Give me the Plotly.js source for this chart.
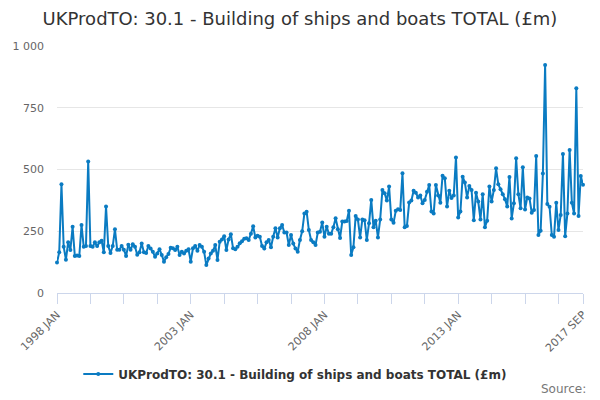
<!DOCTYPE html>
<html>
<head>
<meta charset="utf-8">
<script src="https://cdn.plot.ly/plotly-3.0.1.min.js"></script>
<style>
  html, body { margin: 0; padding: 0; background: #fff; }
  #chart { width: 600px; height: 400px; }
</style>
</head>
<body>
<div id="chart"></div>
<script>
"use strict";

// Series: monthly turnover, £m, 1998 JAN .. 2017 SEP
const SERIES_NAME = "UKProdTO: 30.1 - Building of ships and boats TOTAL (£m)";
const MONTHS = ["JAN", "FEB", "MAR", "APR", "MAY", "JUN", "JUL", "AUG", "SEP", "OCT", "NOV", "DEC"];
const FIRST_YEAR = 1998;

const VALUES = [
  123, 165, 440, 187, 135, 205, 174, 268, 150, 152, 150, 275,
  187, 190, 532, 190, 187, 205, 190, 205, 212, 165, 350, 190,
  162, 190, 258, 175, 175, 190, 175, 150, 195, 175, 197, 187,
  155, 165, 200, 165, 162, 190, 180, 167, 147, 160, 177, 154,
  127, 145, 158, 183, 181, 174, 187, 154, 167, 160, 171, 177,
  127, 181, 190, 171, 194, 187, 167, 113, 140, 160, 171, 194,
  134, 207, 217, 230, 174, 217, 238, 181, 177, 187, 201, 210,
  220, 222, 215, 240, 270, 225, 232, 228, 190, 180, 205, 215,
  185, 228, 262, 225, 262, 275, 245, 245, 194, 235, 200, 180,
  167, 215, 250, 322, 329, 255, 215, 205, 194, 245, 248, 285,
  228, 268, 240, 240, 266, 303, 258, 223, 289, 289, 292, 333,
  154, 185, 312, 298, 225, 298, 295, 215, 282, 377, 266, 293,
  225, 298, 417, 404, 374, 431, 298, 284, 333, 339, 336, 485,
  266, 271, 366, 374, 414, 406, 387, 395, 363, 377, 410, 437,
  330, 322, 437, 395, 365, 475, 465, 350, 414, 385, 395, 549,
  306, 330, 471, 447, 387, 433, 417, 295, 406, 370, 298, 400,
  266, 293, 431, 370, 417, 505, 440, 420, 400, 380, 350, 470,
  302, 363, 546, 400, 343, 509, 338, 387, 383, 325, 336, 555,
  235, 252, 484, 923, 360, 349, 235, 228, 365, 255, 316, 563,
  230, 322, 579, 365, 322, 829, 312, 474, 438,
];

// Category labels, "1998 JAN" ...
const CATEGORIES = VALUES.map((v, i) =>
  (FIRST_YEAR + Math.floor(i / 12)) + " " + MONTHS[i % 12]);

// Axis ticks
const LABELLED_TICKS = ["1998 JAN", "2003 JAN", "2008 JAN", "2013 JAN", "2017 SEP"];
const Y_TICKS = [0, 250, 500, 750, 1000];
const Y_TICK_TEXT = ["0", "250", "500", "750", "1 000"];

const COLOR = "#0a7bc2";
const FONT = "'DejaVu Sans', 'Liberation Sans', sans-serif";

// tick marks every 15 months, plus the last month
const tickVals = CATEGORIES.filter((c, i) => i % 15 === 0 || i === CATEGORIES.length - 1);
const tickText = tickVals.map((c) => (LABELLED_TICKS.includes(c) ? c : ""));

const traces = [
  {
    type: "scatter",
    mode: "lines+markers",
    name: SERIES_NAME,
    x: CATEGORIES,
    y: VALUES,
    line: { color: COLOR, width: 2 },
    marker: { color: COLOR, size: 4 },
    cliponaxis: false,
    hoverinfo: "skip",
  },
];

const layout = {
  width: 600,
  height: 400,
  paper_bgcolor: "#fff",
  plot_bgcolor: "#fff",
  font: { family: FONT, size: 11, color: "#666" },
  margin: { t: 46, r: 17, b: 107, l: 57 },
  title: {
    text: SERIES_NAME,
    font: { family: FONT, size: 18, color: "#333" },
    x: 0.5,
    xanchor: "center",
    xref: "container",
    y: 0.953,
    yref: "container",
    yanchor: "middle",
  },
  xaxis: {
    type: "category",
    range: [0, CATEGORIES.length - 1],
    tickmode: "array",
    tickvals: tickVals,
    ticktext: tickText,
    tickangle: -45,
    ticks: "outside",
    ticklen: 10,
    tickcolor: "#ccd6eb",
    tickwidth: 1,
    showline: true,
    linecolor: "#ccd6eb",
    linewidth: 1,
    showgrid: false,
    zeroline: false,
    tickfont: { family: FONT, size: 11, color: "#666" },
    fixedrange: true,
  },
  yaxis: {
    range: [0, 1000],
    tickmode: "array",
    tickvals: Y_TICKS,
    ticktext: Y_TICK_TEXT,
    gridcolor: "#e6e6e6",
    gridwidth: 1,
    zeroline: false,
    showline: false,
    ticks: "",
    ticklabelstandoff: 12,
    tickfont: { family: FONT, size: 11, color: "#666" },
    fixedrange: true,
  },
  showlegend: true,
  legend: {
    orientation: "h",
    x: 0.453,
    xanchor: "center",
    y: -0.328,
    yanchor: "middle",
    font: { family: FONT, size: 12, color: "#333", weight: "bold" },
    bgcolor: "rgba(0,0,0,0)",
  },
  annotations: [
    {
      text: "Source:",
      xref: "paper",
      yref: "paper",
      x: 1.01,
      y: -0.39,
      xanchor: "right",
      yanchor: "middle",
      showarrow: false,
      font: { family: FONT, size: 12, color: "#777" },
    },
  ],
};

Plotly.newPlot("chart", traces, layout, { displayModeBar: false, staticPlot: true });
</script>
</body>
</html>
